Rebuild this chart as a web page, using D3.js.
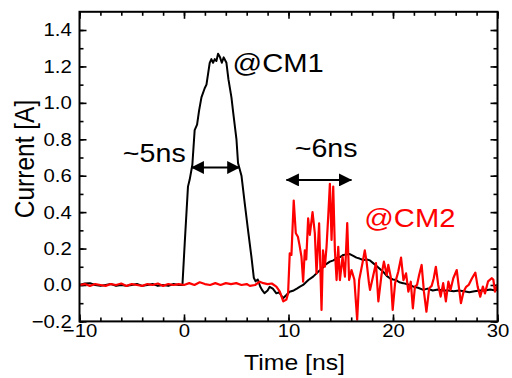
<!DOCTYPE html>
<html><head><meta charset="utf-8">
<script src="https://cdn.jsdelivr.net/npm/d3@7"></script>
<style>html,body{margin:0;padding:0;background:#fff;}svg{display:block;}</style>
</head><body>
<script>
// ---- data ----
const xTicks = [-10, 0, 10, 20, 30];
const yTicks = [-0.2, 0.0, 0.2, 0.4, 0.6, 0.8, 1.0, 1.2, 1.4];
const xLabel = "Time [ns]";
const yLabel = "Current [A]";

const cm1Time = [-10,-9.5,-9,-8.5,-8,-7.5,-7,-6.5,-6,-5.5,-5,-4.5,-4,-3.5,-3,-2.5,-2,-1.5,-1,-0.5,-0.15,
  0.07,0.38,0.55,0.8,1.02,1.25,1.45,1.67,1.98,2.15,2.46,2.62,2.78,2.94,3.1,3.26,3.45,3.62,3.8,4.06,4.25,4.54,4.7,5.02,5.17,5.5,5.81,6.13,6.45,6.68,6.85,7.06,7.3,7.5,7.7,8.0,8.2,8.5,8.84,9.1,9.48,9.8,10.1,10.5,10.8,11.1,11.4,11.9,12.36,12.84,13.2,13.5,13.96,14.3,14.6,15.0,15.24,15.6,15.87,16.2,16.5,16.8,17.15,17.5,17.8,18.1,18.4,18.7,19.05,19.4,19.7,20.0,20.3,20.6,20.97,21.3,21.6,22.0,22.4,22.9,23.3,23.8,24.3,24.8,25.3,25.8,26.3,26.8,27.3,27.8,28.3,28.8,29.3,29.8,30];
const cm1Current = [0.0,0.008,0.01,0.0,-0.005,0.0,0.005,-0.005,0.0,-0.005,0.0,0.005,-0.005,0.0,0.005,-0.005,0.0,-0.005,0.005,0.0,0.0,
  0.23,0.54,0.58,0.66,0.85,0.88,0.96,1.03,1.08,1.1,1.22,1.24,1.22,1.24,1.23,1.27,1.25,1.22,1.25,1.22,1.13,1.03,0.95,0.80,0.67,0.6,0.45,0.30,0.155,0.04,0.02,0.03,-0.01,-0.03,-0.045,-0.03,-0.01,-0.02,-0.046,-0.04,-0.073,-0.055,-0.037,-0.03,-0.02,-0.009,0.0,0.027,0.046,0.073,0.09,0.11,0.128,0.135,0.147,0.155,0.165,0.168,0.17,0.16,0.15,0.145,0.137,0.14,0.135,0.12,0.105,0.09,0.073,0.05,0.037,0.03,0.027,0.015,0.01,0.005,0.0,-0.01,-0.015,-0.027,-0.02,-0.03,-0.025,-0.03,-0.03,-0.035,-0.03,-0.035,-0.04,-0.035,-0.03,-0.03,-0.025,-0.03,-0.025];

const cm2Time = [-10,-9.5,-9,-8.5,-8,-7.5,-7,-6.5,-6,-5.5,-5,-4.5,-4,-3.5,-3,-2.5,-2,-1.5,-1,-0.5,0,0.5,1,1.5,2,2.5,3,3.5,4,4.5,5,5.5,6,6.3,6.8,7.25,7.6,8.0,8.4,8.84,9.17,9.5,9.8,9.96,
  10.12,10.28,10.5,10.7,10.9,11.05,11.24,11.4,11.56,11.7,11.88,12.04,12.3,12.52,12.68,12.93,13.16,13.3,13.48,13.64,13.8,13.96,14.12,14.28,14.44,14.6,14.76,14.92,15.17,15.4,15.62,15.8,16.03,16.3,16.57,16.76,17.08,17.3,17.47,17.7,17.8,18.05,18.37,18.6,18.9,19.13,19.4,19.55,19.78,19.97,20.2,20.5,20.77,21.0,21.25,21.47,21.7,21.9,22.1,22.3,22.5,22.74,22.96,23.2,23.46,23.7,23.9,24.1,24.33,24.56,24.8,25.06,25.3,25.5,25.77,26.1,26.3,26.5,26.75,27.0,27.24,27.56,27.88,28.1,28.35,28.6,28.8,29.1,29.44,29.6,29.76,30];
const cm2Current = [0.0,0.005,-0.005,0.005,0.0,-0.005,0.005,0.0,0.008,-0.005,0.005,0.0,-0.005,0.005,0.0,0.008,-0.005,0.005,0.0,0.005,0.0,0.01,0.0,0.015,0.005,0.0,0.01,0.0,0.01,0.005,0.01,0.0,0.005,-0.005,0.0,0.018,0.01,0.005,0.008,-0.009,-0.037,-0.09,-0.08,-0.046,
  0.174,0.165,0.463,0.284,0.265,0.22,0.155,0.018,0.19,0.14,0.366,0.275,0.40,0.284,0.064,0.339,-0.137,0.19,0.1,0.21,0.375,0.555,0.247,0.54,0.19,0.027,0.21,0.027,0.155,0.046,0.34,0.027,0.082,0.03,-0.19,0.027,0.12,0.19,0.128,0.01,-0.027,0.037,0.12,-0.09,0.055,0.128,0.055,0.11,0.046,-0.137,0.01,0.073,0.15,0.027,0.064,-0.037,0.018,-0.128,-0.009,0.0,0.055,0.11,-0.037,-0.147,-0.018,-0.005,0.037,0.1,0.0,-0.064,0.01,-0.09,0.018,-0.027,0.037,0.082,-0.01,-0.1,-0.037,-0.01,0.0,0.037,0.068,-0.009,-0.064,-0.009,-0.046,0.02,0.037,0.03,-0.037,0.0];

// annotations (data coordinates)
const arrowLabels = ["~5ns", "~6ns"];
const arrowStart = [0.71, 9.8];
const arrowEnd = [5.33, 16.03];
const arrowLevel = [0.645, 0.577];
const seriesLabels = ["@CM1", "@CM2"];
const seriesLabelColors = ["#000000", "#ff0000"];

// ---- layout ----
const W = 512, H = 378;
const L = 79.5, R = 497.5, T = 11.8, B = 321.4;
const SX = 1.1;
const FONT = "'Liberation Sans', Arial, Helvetica, sans-serif";

const svg = d3.select("body").append("svg").attr("width", W).attr("height", H)
  .style("background", "#fff");

const x = d3.scaleLinear().domain([-10, 30]).range([L, R]);
const y = d3.scaleLinear().domain([-0.2, 1.5]).range([B, T]);

const minorX = d3.range(-10, 30.001, 2);
const minorY = d3.range(-2, 15, 1).map(d => d / 10);

function styleAxis(g) {
  g.select(".domain").remove();
  g.selectAll("line").attr("stroke", "#000").attr("stroke-width", 1.6);
}

// minor ticks on four sides
svg.append("g").attr("transform", `translate(0,${B})`)
  .call(d3.axisBottom(x).tickValues(minorX).tickSize(-4).tickFormat(""))
  .call(styleAxis);
svg.append("g").attr("transform", `translate(0,${T})`)
  .call(d3.axisTop(x).tickValues(minorX).tickSize(-4).tickFormat(""))
  .call(styleAxis);
svg.append("g").attr("transform", `translate(${L},0)`)
  .call(d3.axisLeft(y).tickValues(minorY).tickSize(-4).tickFormat(""))
  .call(styleAxis);
svg.append("g").attr("transform", `translate(${R},0)`)
  .call(d3.axisRight(y).tickValues(minorY).tickSize(-4).tickFormat(""))
  .call(styleAxis);

// major ticks
const gxb = svg.append("g").attr("transform", `translate(0,${B})`)
  .call(d3.axisBottom(x).tickValues(xTicks).tickSize(-7).tickPadding(2).tickFormat(d3.format("d")))
  .call(styleAxis);
gxb.selectAll("text").attr("font-family", FONT).attr("font-size", 18.5).attr("fill", "#000")
  .attr("transform", `scale(${SX},1)`);
svg.append("g").attr("transform", `translate(0,${T})`)
  .call(d3.axisTop(x).tickValues(xTicks).tickSize(-7).tickFormat(""))
  .call(styleAxis);
const gyl = svg.append("g").attr("transform", `translate(${L},0)`)
  .call(d3.axisLeft(y).tickValues(yTicks).tickSize(-7).tickPadding(7).tickFormat(d3.format(".1f")))
  .call(styleAxis);
gyl.selectAll("text").attr("font-family", FONT).attr("font-size", 18.5).attr("fill", "#000")
  .attr("transform", `scale(${SX},1)`);
svg.append("g").attr("transform", `translate(${R},0)`)
  .call(d3.axisRight(y).tickValues(yTicks).tickSize(-7).tickFormat(""))
  .call(styleAxis);

// clip
svg.append("clipPath").attr("id", "clip").append("rect")
  .attr("x", L).attr("y", T).attr("width", R - L).attr("height", B - T);

const line = d3.line().x(d => x(d[0])).y(d => y(d[1]));
const cm1 = cm1Time.map((t, i) => [t, cm1Current[i]]);
const cm2 = cm2Time.map((t, i) => [t, cm2Current[i]]);

const plot = svg.append("g").attr("clip-path", "url(#clip)");
plot.append("path").datum(cm1).attr("d", line)
  .attr("fill", "none").attr("stroke", "#000").attr("stroke-width", 2).attr("stroke-linejoin", "round");
plot.append("path").datum(cm2).attr("d", line)
  .attr("fill", "none").attr("stroke", "#ff0000").attr("stroke-width", 2.2).attr("stroke-linejoin", "round");

// frame
svg.append("rect").attr("x", L).attr("y", T).attr("width", R - L).attr("height", B - T)
  .attr("fill", "none").attr("stroke", "#000").attr("stroke-width", 2);

// arrows
const defs = svg.append("defs");
defs.append("marker").attr("id", "ah").attr("viewBox", "0 0 13 13")
  .attr("refX", 12.5).attr("refY", 6.5).attr("markerWidth", 13).attr("markerHeight", 13)
  .attr("markerUnits", "userSpaceOnUse").attr("orient", "auto-start-reverse")
  .append("path").attr("d", "M0,0 L13,6.5 L0,13 Z").attr("fill", "#000");

arrowLabels.forEach((lab, i) => {
  svg.append("line")
    .attr("x1", x(arrowStart[i])).attr("x2", x(arrowEnd[i]))
    .attr("y1", y(arrowLevel[i])).attr("y2", y(arrowLevel[i]))
    .attr("stroke", "#000").attr("stroke-width", 2)
    .attr("marker-start", "url(#ah)").attr("marker-end", "url(#ah)");
});

function addText(px, py, str, size, color, anchor) {
  svg.append("text")
    .attr("transform", `translate(${px},${py}) scale(${SX},1)`)
    .attr("font-family", FONT).attr("font-size", size).attr("fill", color)
    .attr("text-anchor", anchor || "start").text(str);
}

// annotation texts (positions in data space)
const arrowTextT = [-5.85, 10.6];
const arrowTextV = [0.678, 0.70];
arrowLabels.forEach((lab, i) => addText(x(arrowTextT[i]), y(arrowTextV[i]), lab, 26, "#000"));
const seriesTextT = [4.65, 17.25];
const seriesTextV = [1.171, 0.32];
seriesLabels.forEach((lab, i) => addText(x(seriesTextT[i]), y(seriesTextV[i]), lab, 26.5, seriesLabelColors[i]));

// axis titles
addText((L + R) / 2 + 6, 370, xLabel, 22.5, "#000", "middle");
svg.append("text")
  .attr("transform", `translate(34,159) scale(${SX},1) rotate(-90)`)
  .attr("font-family", FONT).attr("font-size", 24.5).attr("fill", "#000")
  .attr("text-anchor", "middle").text(yLabel);
</script>
</body></html>
